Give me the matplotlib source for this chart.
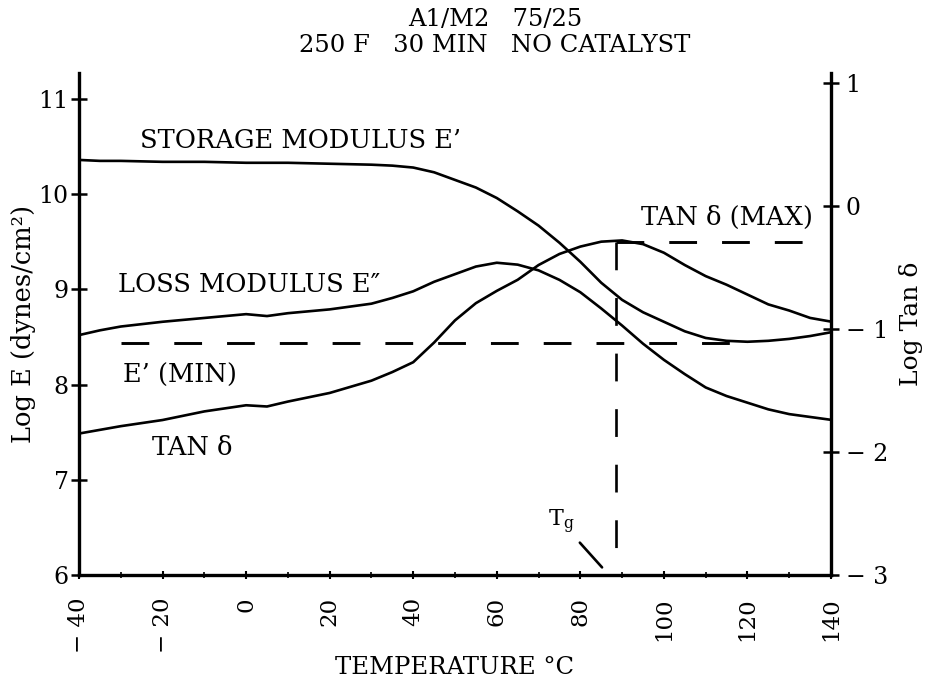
import matplotlib
matplotlib.use("Agg")
import matplotlib.pyplot as plt

plt.rcParams['font.family'] = ['DejaVu Serif']
plt.rcParams['mathtext.fontset'] = 'dejavuserif'
plt.rcParams['lines.scale_dashes'] = False

# ---------------- data ----------------
temp = [-40, -35, -30, -20, -10, 0, 5, 10, 20, 30, 35, 40, 45, 50, 55, 60, 65,
        70, 75, 80, 85, 90, 95, 100, 105, 110, 115, 120, 125, 130, 135, 140]

# Log E' (storage modulus), left axis
storage = [10.36, 10.35, 10.35, 10.34, 10.34, 10.33, 10.33, 10.33, 10.32, 10.31,
           10.30, 10.28, 10.23, 10.15, 10.07, 9.96, 9.82, 9.67, 9.49, 9.29,
           9.07, 8.89, 8.76, 8.66, 8.56, 8.49, 8.46, 8.45, 8.46, 8.48, 8.51, 8.55]

# Log E'' (loss modulus), left axis
loss = [8.52, 8.57, 8.61, 8.66, 8.70, 8.74, 8.72, 8.75, 8.79, 8.85, 8.91, 8.98,
        9.08, 9.16, 9.24, 9.28, 9.26, 9.20, 9.10, 8.97, 8.80, 8.62, 8.43, 8.26,
        8.11, 7.97, 7.88, 7.81, 7.74, 7.69, 7.66, 7.63]

# Log tan delta, right axis
tan_delta = [-1.85, -1.82, -1.79, -1.74, -1.67, -1.62, -1.63, -1.59, -1.52, -1.42,
             -1.35, -1.27, -1.11, -0.93, -0.79, -0.69, -0.60, -0.48, -0.39, -0.33,
             -0.29, -0.28, -0.31, -0.38, -0.48, -0.57, -0.64, -0.72, -0.80, -0.85,
             -0.91, -0.94]

tg_temp = 88.5          # Tg (tan delta max) temperature
tan_max = -0.29         # log tan delta at max
e_min = 8.44            # log E' minimum
e_min_range = [-30, 118]
tan_max_range = [88.5, 137]

x_ticks = [-40, -20, 0, 20, 40, 60, 80, 100, 120, 140]
x_tick_labels = ['\u2212 40', '\u2212 20', '0', '20', '40', '60', '80', '100', '120', '140']
left_ticks = [6, 7, 8, 9, 10, 11]
left_tick_labels = ['6', '7', '8', '9', '10', '11']
right_ticks = [-3, -2, -1, 0, 1]
right_tick_labels = ['\u2212 3', '\u2212 2', '\u2212 1', '0', '1']

# ---------------- figure ----------------
W, H = 935, 684
fig = plt.figure(figsize=(W / 100, H / 100), dpi=100)
ax = fig.add_axes([79 / W, (H - 575) / H, (831 - 79) / W, (575 - 73) / H])
ax2 = ax.twinx()

ax.set_xlim(-40, 140)
ax.set_ylim(6, 6 + 502 / 95.2)
ax2.set_ylim(-3, -3 + 502 / 123.0)

lw_curve = 1.9
ax.plot(temp, storage, color='black', lw=lw_curve)
ax.plot(temp, loss, color='black', lw=lw_curve)
ax2.plot(temp, tan_delta, color='black', lw=lw_curve)

# dashed reference lines
ax.plot(e_min_range, [e_min, e_min], color='black', lw=2.1, dashes=(20, 18))
ax2.plot(tan_max_range, [tan_max, tan_max], color='black', lw=2.1, dashes=(20, 18))
ax2.plot([tg_temp, tg_temp], [tan_max, -2.88], color='black', lw=1.9, dashes=(20, 20))

# spines
for a in (ax, ax2):
    a.spines['top'].set_visible(False)
ax.spines['right'].set_visible(False)
ax2.spines['left'].set_visible(False)
ax2.spines['bottom'].set_visible(False)
for s in ('left', 'bottom'):
    ax.spines[s].set_linewidth(2.4)
ax2.spines['right'].set_linewidth(2.4)

ax.set_xticks(x_ticks)
ax.set_xticklabels(x_tick_labels, rotation=90, fontsize=16.5)
ax.set_xticks([t + 10 for t in x_ticks[:-1]], minor=True)
ax.tick_params(axis='x', which='major', direction='inout', length=6, width=1.5, pad=13)
ax.tick_params(axis='x', which='minor', direction='inout', length=4, width=1.2)

ax.set_yticks(left_ticks)
ax.set_yticklabels(left_tick_labels, fontsize=17)
ax.tick_params(axis='y', direction='inout', length=11, width=1.8, pad=2)

ax2.set_yticks(right_ticks)
ax2.set_yticklabels(right_tick_labels, fontsize=17)
ax2.tick_params(axis='y', direction='inout', length=11, width=1.8, pad=5)

ax.set_xlabel('TEMPERATURE \u00b0C', fontsize=17.5)
ax.xaxis.set_label_coords(0.5, -(667 - 575) / 502)
ax.xaxis.label.set_va('center')
ax.set_ylabel('Log E (dynes/cm\u00b2)', fontsize=18.5, labelpad=2)
ax2.set_ylabel('Log Tan \u03b4', fontsize=18, labelpad=8)

# title
fig.text(495 / W, 1 - 20 / H, 'A1/M2   75/25', ha='center', va='center', fontsize=17.5)
fig.text(495 / W, 1 - 46 / H, '250 F   30 MIN   NO CATALYST', ha='center', va='center', fontsize=17.5)

# curve labels
fs_lab = 18.5
ax.text(-25.4, 10.56, 'STORAGE MODULUS E\u2019', ha='left', va='center', fontsize=fs_lab)
ax.text(-30.7, 9.05, 'LOSS MODULUS E\u2033', ha='left', va='center', fontsize=fs_lab)
ax.text(-29.5, 8.10, 'E\u2019 (MIN)', ha='left', va='center', fontsize=fs_lab)
ax.text(-22.5, 7.34, 'TAN \u03b4', ha='left', va='center', fontsize=fs_lab)
ax.text(135.7, 9.76, 'TAN \u03b4 (MAX)', ha='right', va='center', fontsize=fs_lab)

ax.annotate('T$_\\mathregular{g}$', xy=(85.2, 6.08), xytext=(72.2, 6.56),
            ha='left', va='center', fontsize=16,
            arrowprops=dict(arrowstyle='-', color='black', lw=1.9,
                            shrinkA=4, shrinkB=0))

fig.savefig('out.png', dpi=100)
